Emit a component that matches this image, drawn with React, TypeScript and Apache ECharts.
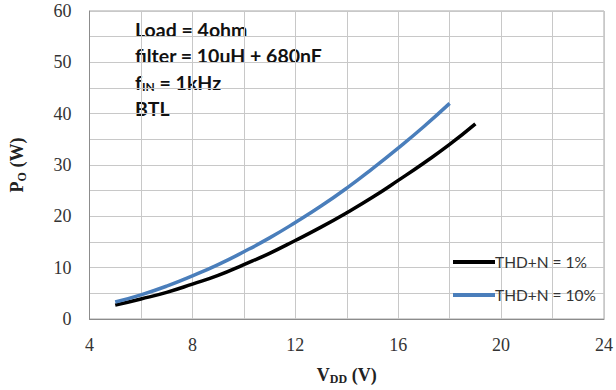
import React, { useEffect, useRef } from "react";
import * as echarts from "echarts";

const vdd1 = [5, 6, 7, 8, 9, 10, 11, 12, 13, 14, 15, 16, 17, 18, 19];
const po1 = [2.7, 3.9, 5.2, 6.8, 8.5, 10.6, 12.8, 15.3, 17.9, 20.7, 23.7, 27.0, 30.4, 34.0, 38.0];
const vdd10 = [5, 6, 7, 8, 9, 10, 11, 12, 13, 14, 15, 16, 17, 18];
const po10 = [3.3, 4.7, 6.4, 8.4, 10.6, 13.1, 15.8, 18.8, 22.0, 25.5, 29.3, 33.3, 37.5, 42.0];
const seriesNames = ["THD+N = 1%", "THD+N = 10%"];
const annotations = ["Load = 4ohm", "filter = 10uH + 680nF", "f{sub|IN} = 1kHz", "BTL"];

export default function App() {
  const ref = useRef<HTMLDivElement>(null);
  useEffect(() => {
    const chart = echarts.init(ref.current!, undefined, { renderer: "svg" });
    const serif = "Liberation Serif";
    const sans = "Lato";
    chart.setOption({
      animation: false,
      grid: { left: 88, right: 8, top: 11, bottom: 62, show: true, borderColor: "#a6a6a6", borderWidth: 1 },
      xAxis: {
        type: "value",
        min: 4,
        max: 24,
        interval: 4,
        axisLine: { show: true, lineStyle: { color: "#8c8c8c", width: 1 } },
        axisTick: { show: false },
        splitLine: { show: true, lineStyle: { color: "#c8c8c8", width: 1 } },
        minorTick: { show: false, splitNumber: 2 },
        minorSplitLine: { show: true, lineStyle: { color: "#c8c8c8", width: 1 } },
        axisLabel: { fontFamily: serif, fontSize: 18, color: "#333", margin: 17 },
        name: "V{sub|DD} (V)",
        nameLocation: "middle",
        nameGap: 45,
        nameTextStyle: {
          fontFamily: serif, fontSize: 18, fontWeight: "bold", color: "#222",
          rich: { sub: { fontFamily: serif, fontSize: 12, fontWeight: "bold", verticalAlign: "bottom", padding: [9, 0, 0, 0], color: "#222" } },
        },
      },
      yAxis: {
        type: "value",
        min: 0,
        max: 60,
        interval: 10,
        axisLine: { show: true, lineStyle: { color: "#8c8c8c", width: 1 } },
        axisTick: { show: false },
        splitLine: { show: true, lineStyle: { color: "#c8c8c8", width: 1 } },
        minorTick: { show: false, splitNumber: 2 },
        minorSplitLine: { show: true, lineStyle: { color: "#c8c8c8", width: 1 } },
        axisLabel: { fontFamily: serif, fontSize: 18, color: "#333", margin: 18 },
        name: "P{sub|O} (W)",
        nameLocation: "middle",
        nameRotate: 90,
        nameGap: 62,
        nameTextStyle: {
          fontFamily: serif, fontSize: 18, fontWeight: "bold", color: "#222",
          rich: { sub: { fontFamily: serif, fontSize: 12, fontWeight: "bold", verticalAlign: "bottom", padding: [9, 0, 0, 0], color: "#222" } },
        },
      },
      legend: {
        orient: "vertical",
        left: 448,
        top: 249,
        itemGap: 17,
        itemWidth: 42,
        itemHeight: 4,
        icon: "rect",
        textStyle: { fontFamily: sans, fontSize: 15.5, color: "#333", padding: [0, 0, 0, -5] },
        data: seriesNames,
      },
      series: [
        {
          name: seriesNames[0],
          type: "line",
          smooth: true,
          showSymbol: false,
          data: vdd1.map((v, i) => [v, po1[i]]),
          lineStyle: { color: "#000000", width: 3.5 },
          itemStyle: { color: "#000000" },
        },
        {
          name: seriesNames[1],
          type: "line",
          smooth: true,
          showSymbol: false,
          data: vdd10.map((v, i) => [v, po10[i]]),
          lineStyle: { color: "#4a7ebb", width: 3.5 },
          itemStyle: { color: "#4a7ebb" },
        },
      ],
      graphic: annotations.map((t, i) => ({
        type: "text",
        left: 135,
        top: 19 + i * 26.5,
        style: {
          text: t,
          fontFamily: sans,
          fontSize: 19.5,
          fontWeight: "bold",
          fill: "#111",
          rich: { sub: { fontFamily: sans, fontSize: 12, fontWeight: "bold", verticalAlign: "bottom", padding: [7, 0, 0, 0], fill: "#111" } },
        },
      })),
    });
    return () => chart.dispose();
  }, []);
  return <div ref={ref} style={{ width: 616, height: 390, position: "absolute", left: 0, top: 0 }} />;
}
